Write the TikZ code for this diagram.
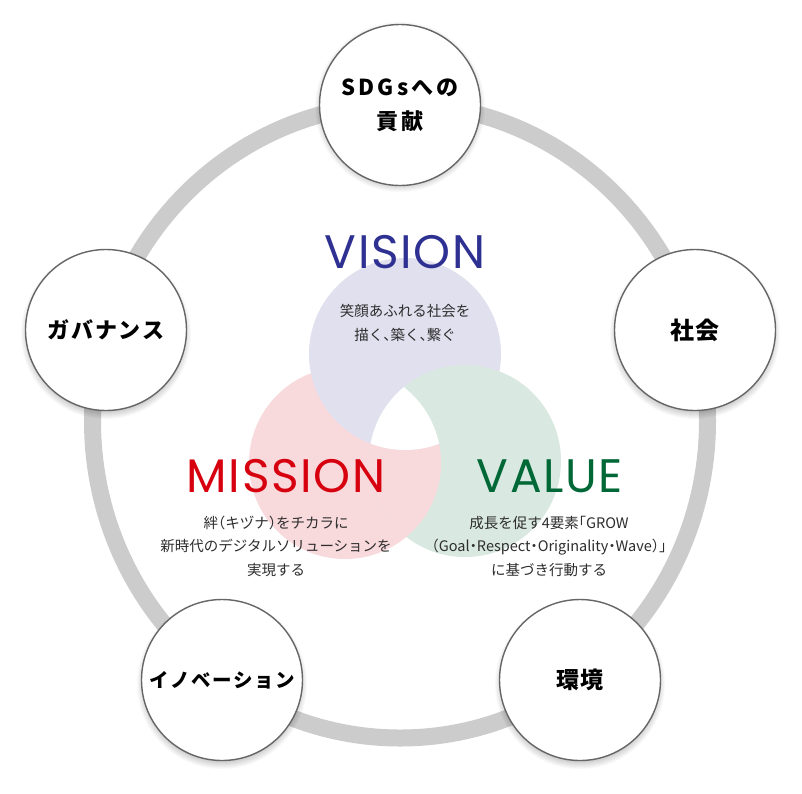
\documentclass[tikz,border=0pt]{standalone}
\usepackage{fontspec}
\newfontfamily\jp[RawFeature=+halt]{Noto Sans CJK JP}
\newfontfamily\jplab[LetterSpace=8]{Noto Sans CJK JP}
\newfontfamily\jplabw[LetterSpace=14]{Noto Sans CJK JP}
\newfontfamily\pop[LetterSpace=3.5]{Poppins}
\definecolor{lav}{RGB}{225,224,239}
\definecolor{pnk}{RGB}{248,217,220}
\definecolor{grn}{RGB}{217,232,224}
\definecolor{visc}{RGB}{46,49,146}
\definecolor{misc}{RGB}{215,0,15}
\definecolor{valc}{RGB}{0,104,55}
\definecolor{ringc}{RGB}{204,204,204}
\definecolor{bord}{RGB}{102,102,102}
\definecolor{txt}{RGB}{45,45,45}
\tikzset{
  topic/.style={circle, draw=bord, line width=1.4pt, fill=white, minimum size=161pt, inner sep=0pt, align=center, text=black},
  title/.style={anchor=base, inner sep=0pt, font={\pop\fontsize{47}{47}\selectfont}},
  body/.style={align=center, inner sep=0pt, text=txt, font={\jp\fontsize{14.5}{23.5}\selectfont}},
  ring/.style={draw=ringc, line width=17pt},
}
\begin{document}
\begin{tikzpicture}[x=1pt,y=-1pt]
\useasboundingbox (0,0) rectangle (802,793);
\fill[white] (0,0) rectangle (802,793);
% ring
\draw[ring] (400,421) ellipse [x radius=307.5, y radius=317];
% venn centres
\coordinate (cV) at (405,354);
\coordinate (cM) at (345,463);
\coordinate (cG) at (465,461);
\fill[pnk] (cM) circle [radius=96];
\fill[lav] (cV) circle [radius=96];
\fill[grn] (cG) circle [radius=96];
\begin{scope}
  \clip (cM) circle [radius=96];
  \clip (cG) circle [radius=96];
  \fill[pnk, even odd rule] (0,0) rectangle (802,793) (cV) circle [radius=96];
\end{scope}
\begin{scope}
  \clip (cM) circle [radius=96];
  \clip (cG) circle [radius=96];
  \fill[white] (cV) circle [radius=96];
\end{scope}
% titles
\node[title, text=visc] (tV) at (405,268) {VISION};
\node[title, text=misc] (tM) at (286,492) {MISSION};
\node[title, text=valc] (tG) at (550,492) {VALUE};
% body texts
\node[body] (bV) at (405,323) {笑顔あふれる社会を\\描く、築く、繋ぐ};
\node[body] (bM) at (276,546) {絆（キヅナ）をチカラに\\新時代のデジタルソリューションを\\実現する};
\node[body] (bG) at (549,546) {成長を促す4要素「GROW\\（Goal・Respect・Originality・Wave）」\\に基づき行動する};
% outer circles
\coordinate (p1) at (400,103);
\coordinate (p2) at (695,330);
\coordinate (p3) at (580,680);
\coordinate (p4) at (222,680);
\coordinate (p5) at (106,330);
\foreach \p in {p1,p2,p3,p4,p5}{
  \foreach \k in {0,...,9}{
    \fill[black, opacity=0.022] ([yshift=-4pt]\p) circle [radius=76+\k];
  }
}
\node[topic, font={\jplabw\bfseries\fontsize{22}{34}\selectfont}] (n1) at ([yshift=-2pt]p1) {SDGsへの\\貢献};
\node[topic, font={\jplab\bfseries\fontsize{24}{24}\selectfont}] (n2) at (p2) {社会};
\node[topic, font={\jplab\bfseries\fontsize{23}{23}\selectfont}] (n3) at (p3) {環境};
\node[topic, font={\jplab\bfseries\fontsize{19.5}{20}\selectfont}] (n4) at (p4) {イノベーション};
\node[topic, font={\jplab\bfseries\fontsize{22}{22}\selectfont}] (n5) at (p5) {ガバナンス};
\end{tikzpicture}
\end{document}
